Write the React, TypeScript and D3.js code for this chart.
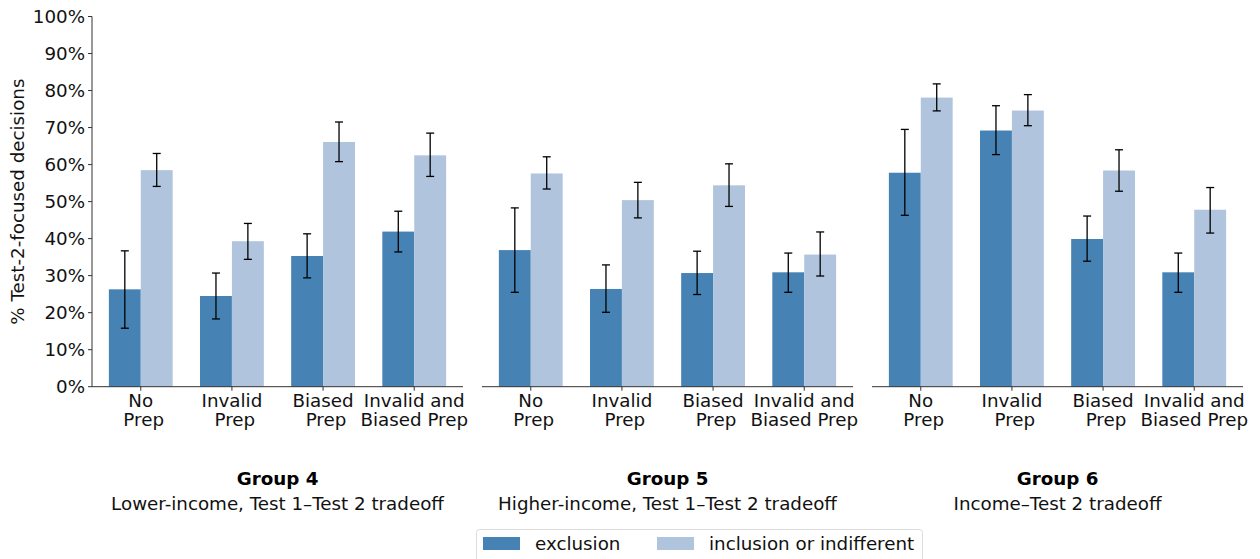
import React from "react";
import * as d3 from "d3";

const categories = [["No", " Prep"], ["Invalid", " Prep"], ["Biased", " Prep"], ["Invalid and", "Biased Prep"]];
const groupTitles = ["Group 4", "Group 5", "Group 6"];
const groupSubtitles = [
  "Lower-income, Test 1\u2013Test 2 tradeoff",
  "Higher-income, Test 1\u2013Test 2 tradeoff",
  "Income\u2013Test 2 tradeoff",
];
const seriesNames = ["exclusion", "inclusion or indifferent"];
const seriesColors = ["#4682b4", "#b0c4de"];

// values in %, per group, per category
const exclusion = [
  [26.3, 24.5, 35.3, 41.9],
  [36.9, 26.4, 30.7, 30.9],
  [57.8, 69.2, 39.9, 30.9],
];
const exclusionLo = [
  [15.8, 18.3, 29.4, 36.4],
  [25.5, 20.1, 24.9, 25.5],
  [46.3, 62.7, 33.9, 25.5],
];
const exclusionHi = [
  [36.7, 30.7, 41.3, 47.4],
  [48.3, 32.9, 36.6, 36.1],
  [69.5, 75.9, 46.1, 36.1],
];
const inclusion = [
  [58.5, 39.3, 66.1, 62.5],
  [57.6, 50.4, 54.4, 35.7],
  [78.1, 74.6, 58.4, 47.8],
];
const inclusionLo = [
  [54.1, 34.4, 60.8, 56.8],
  [53.4, 45.6, 48.7, 29.9],
  [74.5, 70.5, 52.8, 41.5],
];
const inclusionHi = [
  [63.0, 44.1, 71.5, 68.5],
  [62.1, 55.2, 60.2, 41.8],
  [81.8, 78.9, 64.0, 53.8],
];
const yTicks = [0, 10, 20, 30, 40, 50, 60, 70, 80, 90, 100];

const W = 1260;
const H = 559;
const panelLefts = [92, 482, 872];
const panelWidth = 371;
const top = 16.5;
const bottom = 386.7;
const barW = 0.35;
const FONT = "DejaVu Sans, sans-serif";
const axisColor = "#333";
const FS = 17.5;
const SX = 1.045;

function T(props: {
  x: number;
  y: number;
  anchor?: "start" | "middle" | "end";
  bold?: boolean;
  rotate?: number;
  dy?: string;
  children: React.ReactNode;
}) {
  const { x, y, anchor = "start", bold, rotate = 0, dy, children } = props;
  const tr = rotate ? `translate(${x},${y}) rotate(${rotate}) scale(${SX},1)` : `translate(${x},${y}) scale(${SX},1)`;
  return (
    <text
      transform={tr}
      x={0}
      y={0}
      dy={dy}
      textAnchor={anchor}
      fontSize={FS}
      fontWeight={bold ? "bold" : "normal"}
      fill={bold ? "#000" : "#111"}
      style={{ whiteSpace: "pre" }}
    >
      {children}
    </text>
  );
}

export default function App() {
  const y = d3.scaleLinear().domain([0, 100]).range([bottom, top]);
  const series = [
    { vals: exclusion, lo: exclusionLo, hi: exclusionHi, off: -barW / 2 },
    { vals: inclusion, lo: inclusionLo, hi: inclusionHi, off: barW / 2 },
  ];
  return (
    <div style={{ position: "absolute", left: 0, top: 0 }}>
      <svg width={W} height={H} style={{ display: "block", fontFamily: FONT }}>
        <rect x={0} y={0} width={W} height={H} fill="#fff" />
        {/* y axis */}
        <line x1={panelLefts[0]} x2={panelLefts[0]} y1={top} y2={bottom} stroke={axisColor} strokeWidth={1} />
        {yTicks.map((t) => (
          <g key={t}>
            <line x1={panelLefts[0] - 4} x2={panelLefts[0]} y1={y(t)} y2={y(t)} stroke={axisColor} strokeWidth={1} />
            <T x={panelLefts[0] - 7} y={y(t)} dy="0.36em" anchor="end">
              {t}%
            </T>
          </g>
        ))}
        <T x={24} y={(top + bottom) / 2} anchor="middle" rotate={-90}>
          % Test-2-focused decisions
        </T>
        {panelLefts.map((px, gi) => {
          const x = d3.scaleLinear().domain([-0.535, 3.535]).range([px, px + panelWidth]);
          const pxW = x(barW) - x(0);
          return (
            <g key={gi}>
              {series.map((s, si) =>
                categories.map((_, ci) => (
                  <rect
                    key={`b${si}-${ci}`}
                    x={x(ci + s.off) - pxW / 2}
                    y={y(s.vals[gi][ci])}
                    width={pxW}
                    height={y(0) - y(s.vals[gi][ci])}
                    fill={seriesColors[si]}
                  />
                ))
              )}
              {series.map((s, si) =>
                categories.map((_, ci) => {
                  const cx = x(ci + s.off);
                  return (
                    <g key={`e${si}-${ci}`} stroke="#000" strokeWidth={1.3}>
                      <line x1={cx} x2={cx} y1={y(s.lo[gi][ci])} y2={y(s.hi[gi][ci])} />
                      <line x1={cx - 4} x2={cx + 4} y1={y(s.lo[gi][ci])} y2={y(s.lo[gi][ci])} />
                      <line x1={cx - 4} x2={cx + 4} y1={y(s.hi[gi][ci])} y2={y(s.hi[gi][ci])} />
                    </g>
                  );
                })
              )}
              <line x1={px} x2={px + panelWidth} y1={bottom} y2={bottom} stroke={axisColor} strokeWidth={1} />
              {categories.map((c, ci) => (
                <g key={`t${ci}`}>
                  <line x1={x(ci)} x2={x(ci)} y1={bottom} y2={bottom + 4} stroke={axisColor} strokeWidth={1} />
                  {c.map((line, li) => (
                    <T key={li} x={x(ci)} y={bottom + 20 + li * 19} anchor="middle">
                      {line}
                    </T>
                  ))}
                </g>
              ))}
              <T x={px + panelWidth / 2} y={485} anchor="middle" bold>
                {groupTitles[gi]}
              </T>
              <T x={px + panelWidth / 2} y={510} anchor="middle">
                {groupSubtitles[gi]}
              </T>
            </g>
          );
        })}
        {/* legend */}
        <rect x={476.5} y={529.5} width={446} height={40} rx={3} fill="#fff" stroke="#ddd" />
        {seriesNames.map((n, i) => {
          const lx = i === 0 ? 483 : 657;
          return (
            <g key={n}>
              <rect x={lx} y={537} width={37} height={13} fill={seriesColors[i]} />
              <T x={lx + 52} y={550}>
                {n}
              </T>
            </g>
          );
        })}
      </svg>
    </div>
  );
}
